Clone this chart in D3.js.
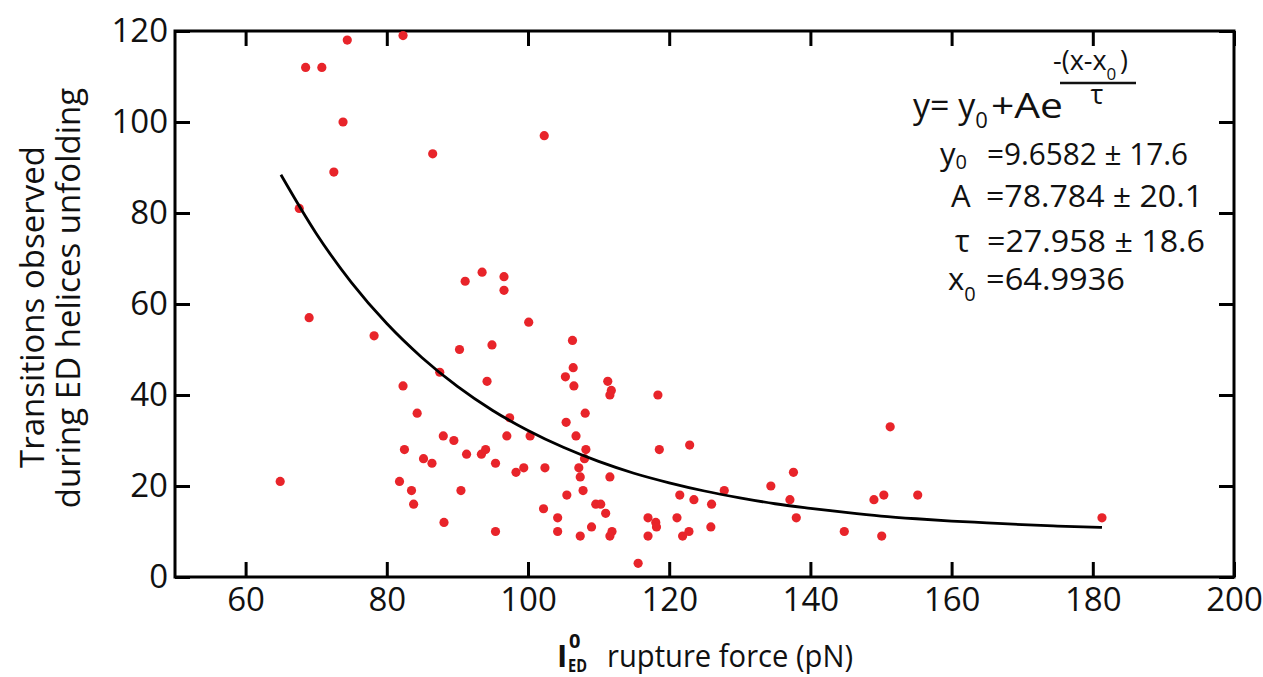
<!DOCTYPE html>
<html>
<head>
<meta charset="utf-8">
<script src="https://cdn.jsdelivr.net/npm/d3@7/dist/d3.min.js"></script>
<style>
  html, body { margin: 0; padding: 0; background: #fff; }
  svg { display: block; font-family: "Open Sans", "Noto Sans", sans-serif; }
</style>
</head>
<body>
<svg id="chart" width="1263" height="677"></svg>
<script>
// ---- data ----
const forceX = [74.4,82.3,68.5,70.8,73.8,86.5,72.5,67.6,91.1,69.0,78.2,90.3,87.5,82.3,84.3,88.0,89.5,82.5,85.2,86.4,91.3,64.9,81.8,83.5,90.5,83.8,88.1,
  100.1,94.9,106.3,106.4,105.3,106.5,94.2,111.3,111.8,111.6,118.4,108.1,97.4,105.4,97.0,100.3,106.8,93.4,94.0,95.4,108.2,108.0,118.6,122.9,
  98.3,99.4,102.4,107.2,107.4,111.6,105.5,107.8,121.5,123.5,102.2,109.6,110.3,111.0,104.2,117.0,118.1,118.2,121.1,95.4,104.2,109.0,107.4,
  111.9,111.6,117.0,122.8,121.9,115.6,93.5,96.6,96.6,102.3,151.3,137.6,134.4,127.8,126.0,137.1,149.0,150.4,155.2,138.0,125.9,144.8,150.1,181.3];
const transitions = [118,119,112,112,100,93,89,81,65,57,53,50,45,42,36,31,30,28,26,25,27,21,21,19,19,16,12,
  56,51,52,46,44,42,43,43,41,40,40,36,35,34,31,31,31,27,28,25,28,26,28,29,
  23,24,24,24,22,22,18,19,18,17,15,16,16,14,13,13,12,11,13,10,10,11,9,
  10,9,9,10,9,3,67,66,63,97,33,23,20,19,16,17,17,18,18,13,11,10,9,13];
// fitted curve, sampled along the drawn line
const fitX = [65,70,75,80,85,90,95,100,105,110,115,120,125,130,135,140,145,150,155,160,165,170,175,181.3];
const fitY = [88.4,75.5,64.7,55.7,48.2,41.9,36.6,32.2,28.5,25.4,22.8,20.7,18.9,17.4,16.1,15.1,14.2,13.4,12.8,12.3,11.9,11.5,11.2,10.9];
const xTicks = [60,80,100,120,140,160,180,200];
const yTicks = [0,20,40,60,80,100,120];
const xTitle = "rupture force (pN)";
const yTitle1 = "Transitions observed";
const yTitle2 = "during ED helices unfolding";

// ---- layout ----
const L = 175, R = 1234, T = 31, B = 577;
const svg = d3.select("#chart");
const x = d3.scaleLinear().domain([50, 200]).range([L, R]);
const y = d3.scaleLinear().domain([0, 120]).range([B, T]);

const tickStyle = g => {
  g.select(".domain").remove();
  g.selectAll(".tick line").attr("stroke", "#000").attr("stroke-width", 3);
  g.selectAll(".tick text").attr("fill", "#111").style("font-size", "33px")
    .style("font-family", "'Open Sans', sans-serif");
};

svg.append("g").attr("transform", `translate(0,${B})`)
  .call(d3.axisBottom(x).tickValues(xTicks).tickFormat(d3.format("d")).tickSizeInner(-15).tickSizeOuter(0).tickPadding(11))
  .call(tickStyle);
svg.append("g").attr("transform", `translate(0,${T})`)
  .call(d3.axisTop(x).tickValues(xTicks).tickFormat("").tickSizeInner(-15).tickSizeOuter(0))
  .call(tickStyle);
svg.append("g").attr("transform", `translate(${L},0)`)
  .call(d3.axisLeft(y).tickValues(yTicks).tickFormat(d3.format("d")).tickSizeInner(-15).tickSizeOuter(0).tickPadding(7))
  .call(tickStyle);
svg.append("g").attr("transform", `translate(${R},0)`)
  .call(d3.axisRight(y).tickValues(yTicks).tickFormat("").tickSizeInner(-15).tickSizeOuter(0))
  .call(tickStyle);

svg.append("rect").attr("x", L).attr("y", T).attr("width", R - L).attr("height", B - T)
  .attr("fill", "none").attr("stroke", "#000").attr("stroke-width", 3);

// points
svg.append("g").selectAll("circle").data(forceX).join("circle")
  .attr("cx", d => x(d)).attr("cy", (d, i) => y(transitions[i])).attr("r", 4.6)
  .attr("fill", "#e8242a");

// fit curve
const fitPts = fitX.map((d, i) => [d, fitY[i]]);
svg.append("path").datum(fitPts)
  .attr("d", d3.line().x(d => x(d[0])).y(d => y(d[1])).curve(d3.curveMonotoneX))
  .attr("fill", "none").attr("stroke", "#000").attr("stroke-width", 2.8);

// x axis title
const xt = svg.append("g").attr("fill", "#111");
xt.append("text").attr("x", 557).attr("y", 667).style("font-size", "31px").style("font-weight", "bold").text("I");
xt.append("text").attr("x", 569).attr("y", 648).style("font-size", "20px").style("font-weight", "bold").text("0");
xt.append("text").attr("x", 568).attr("y", 672).attr("textLength", 19).attr("lengthAdjust", "spacingAndGlyphs")
  .style("font-size", "17px").style("font-weight", "bold").text("ED");
xt.append("text").attr("x", 607).attr("y", 667).attr("textLength", 246).attr("lengthAdjust", "spacingAndGlyphs")
  .style("font-size", "31px").text(xTitle);

// y axis title
const yt = svg.append("g").attr("fill", "#111").style("font-size", "33px");
yt.append("text").attr("transform", "translate(44,307) rotate(-90)").attr("text-anchor", "middle").text(yTitle1);
yt.append("text").attr("transform", "translate(80,298) rotate(-90)").attr("text-anchor", "middle").text(yTitle2);

// equation
const eq = svg.append("g").attr("fill", "#111");
const l1 = eq.append("text").attr("x", 913).attr("y", 118).style("font-size", "34px");
l1.append("tspan").text("y= y");
l1.append("tspan").attr("dy", 10).style("font-size", "22px").text("0");
l1.append("tspan").attr("x", 991).attr("y", 118).attr("textLength", 72).attr("lengthAdjust", "spacingAndGlyphs").text("+Ae");
const ex = eq.append("text").attr("x", 1053).attr("y", 70).style("font-size", "27px");
ex.append("tspan").text("-(x-x");
ex.append("tspan").attr("dy", 10).style("font-size", "17px").text("0");
ex.append("tspan").attr("x", 1120).attr("y", 70).text(")");
eq.append("line").attr("x1", 1060).attr("x2", 1136).attr("y1", 83).attr("y2", 83)
  .attr("stroke", "#111").attr("stroke-width", 2.5);
eq.append("text").attr("x", 1097).attr("y", 104).attr("text-anchor", "middle").style("font-size", "27px").text("τ");

const params = [
  {name: "y", sub: "0", dy: 4, x: 940, y: 165, val: "=9.6582 ± 17.6", vx: 987, w: 201},
  {name: "A", sub: "", dy: 0, x: 951, y: 207, val: "=78.784 ± 20.1", vx: 986, w: 217},
  {name: "τ", sub: "", dy: 0, x: 955, y: 252, val: "=27.958 ± 18.6", vx: 987, w: 218},
  {name: "x", sub: "0", dy: 11, x: 948, y: 290, val: "=64.9936", vx: 986, w: 139}
];
params.forEach(p => {
  const t = eq.append("text").attr("x", p.x).attr("y", p.y).style("font-size", "31px");
  t.append("tspan").text(p.name);
  if (p.sub) t.append("tspan").attr("dy", p.dy).style("font-size", "20px").text(p.sub);
  t.append("tspan").attr("x", p.vx).attr("y", p.y).attr("textLength", p.w).attr("lengthAdjust", "spacingAndGlyphs").text(p.val);
});
</script>
</body>
</html>
